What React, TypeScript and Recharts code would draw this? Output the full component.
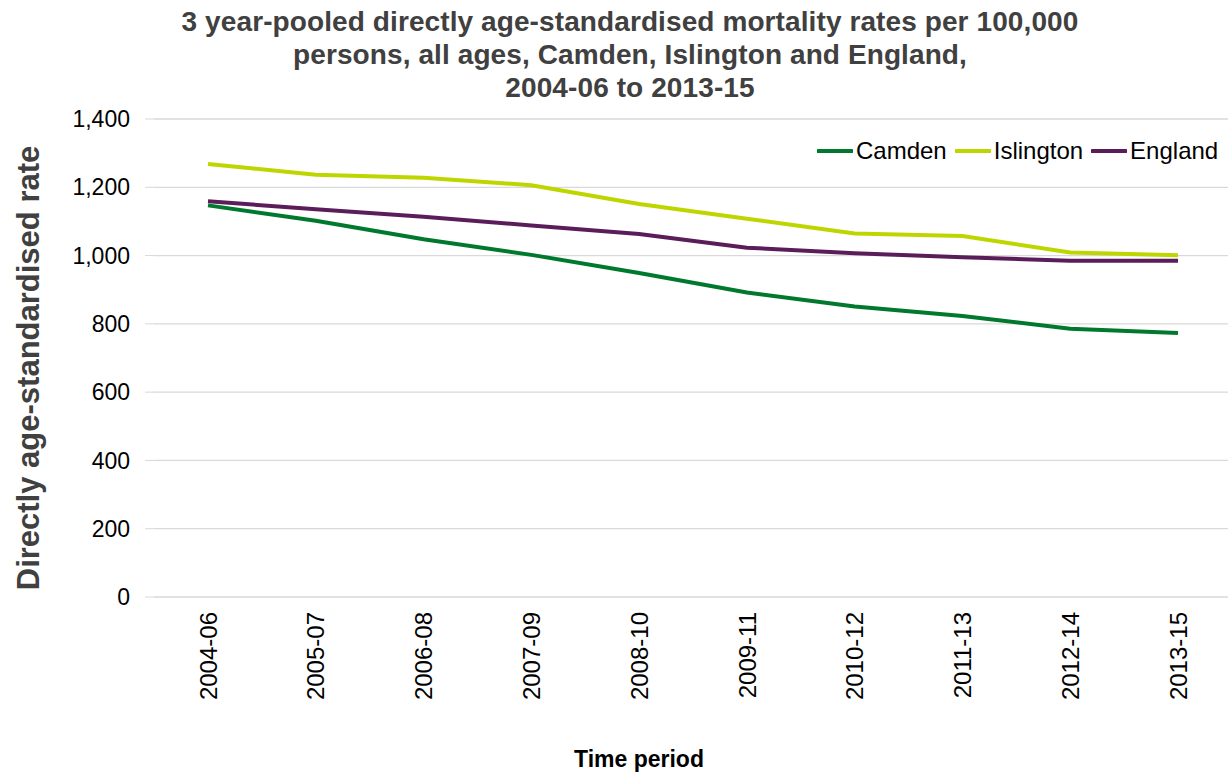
import { LineChart, Line, XAxis, YAxis, CartesianGrid, Label } from "recharts";

const periods = ["2004-06", "2005-07", "2006-08", "2007-09", "2008-10", "2009-11", "2010-12", "2011-13", "2012-14", "2013-15"];
const camden = [1147, 1102, 1048, 1002, 949, 892, 851, 823, 786, 773];
const islington = [1268, 1237, 1228, 1206, 1151, 1108, 1065, 1057, 1009, 1001];
const england = [1159, 1136, 1114, 1088, 1063, 1023, 1007, 995, 985, 985];
const yTicks = [0, 200, 400, 600, 800, 1000, 1200, 1400];

const seriesInfo = [
  { key: "camden", name: "Camden", color: "#00792F" },
  { key: "islington", name: "Islington", color: "#BED600" },
  { key: "england", name: "England", color: "#5A1D5A" },
];

const data = periods.map((p, i) => ({
  period: p,
  camden: camden[i],
  islington: islington[i],
  england: england[i],
}));

const FONT = "'Liberation Sans', Arial, sans-serif";

const PeriodTick = ({ x, y, payload }: any) => (
  <text
    x={x}
    y={y}
    transform={`rotate(-90, ${x}, ${y})`}
    textAnchor="end"
    dy="0.36em"
    fontSize={24}
    fontFamily={FONT}
    fill="#000"
  >
    {payload.value}
  </text>
);

const App = () => {
  return (
    <div
      style={{
        position: "absolute",
        left: 0,
        top: 0,
        width: 1228,
        height: 773,
        overflow: "hidden",
        background: "#fff",
        fontFamily: FONT,
      }}
    >
      <div
        style={{
          position: "absolute",
          left: 30,
          top: 5,
          width: 1200,
          textAlign: "center",
          fontSize: 28,
          fontWeight: "bold",
          lineHeight: "33px",
          letterSpacing: "0.1px",
          color: "#404040",
        }}
      >
        3 year-pooled directly age-standardised mortality rates per 100,000
        <br />
        persons, all ages, Camden, Islington and England,
        <br />
        2004-06 to 2013-15
      </div>

      <LineChart
        width={1240}
        height={773}
        data={data}
        margin={{ top: 119, right: 8, bottom: 0, left: 0 }}
      >
        <CartesianGrid horizontal vertical={false} stroke="#D9D9D9" strokeWidth={1.3} />
        <XAxis
          dataKey="period"
          axisLine={false}
          tickLine={false}
          tickSize={0}
          tickMargin={15}
          height={176}
          interval={0}
          padding={{ left: 54, right: 54 }}
          tick={<PeriodTick />}
        >
          <Label
            content={({ viewBox }: any) => (
              <text
                x={viewBox.x + viewBox.width / 2 - 54}
                y={viewBox.y + viewBox.height - 6}
                textAnchor="middle"
                fontSize={23}
                fontWeight="bold"
                fontFamily={FONT}
                fill="#000"
              >
                Time period
              </text>
            )}
          />
        </XAxis>
        <YAxis
          domain={[0, 1400]}
          ticks={yTicks}
          width={154}
          axisLine={false}
          tickLine={{ stroke: "#D9D9D9" }}
          tickSize={9}
          tickMargin={15}
          tick={{ fontSize: 23, fill: "#000", fontFamily: FONT }}
          tickFormatter={(v: number) => v.toLocaleString("en-GB")}
        >
          <Label
            content={({ viewBox }: any) => {
              const cx = viewBox.x + 28;
              const cy = viewBox.y + viewBox.height / 2 + 10;
              return (
                <text
                  x={cx}
                  y={cy}
                  transform={`rotate(-90, ${cx}, ${cy})`}
                  textAnchor="middle"
                  dy="0.36em"
                  fontSize={31}
                  fontWeight="bold"
                  fontFamily={FONT}
                  fill="#404040"
                >
                  Directly age-standardised rate
                </text>
              );
            }}
          />
        </YAxis>
        {seriesInfo.map((s) => (
          <Line
            key={s.key}
            type="linear"
            dataKey={s.key}
            name={s.name}
            stroke={s.color}
            strokeWidth={4}
            dot={false}
            activeDot={false}
            isAnimationActive={false}
          />
        ))}
      </LineChart>

      <div
        style={{
          position: "absolute",
          left: 817,
          top: 136,
          display: "flex",
          alignItems: "center",
          fontSize: 24,
          color: "#000",
          whiteSpace: "nowrap",
        }}
      >
        {seriesInfo.map((s) => (
          <div key={s.key} style={{ display: "flex", alignItems: "center", marginRight: 8 }}>
            <svg width={36} height={30} style={{ marginRight: 3 }}>
              <line x1={1} y1={15} x2={35} y2={15} stroke={s.color} strokeWidth={4} strokeLinecap="round" />
            </svg>
            <span>{s.name}</span>
          </div>
        ))}
      </div>
    </div>
  );
};

export default App;
